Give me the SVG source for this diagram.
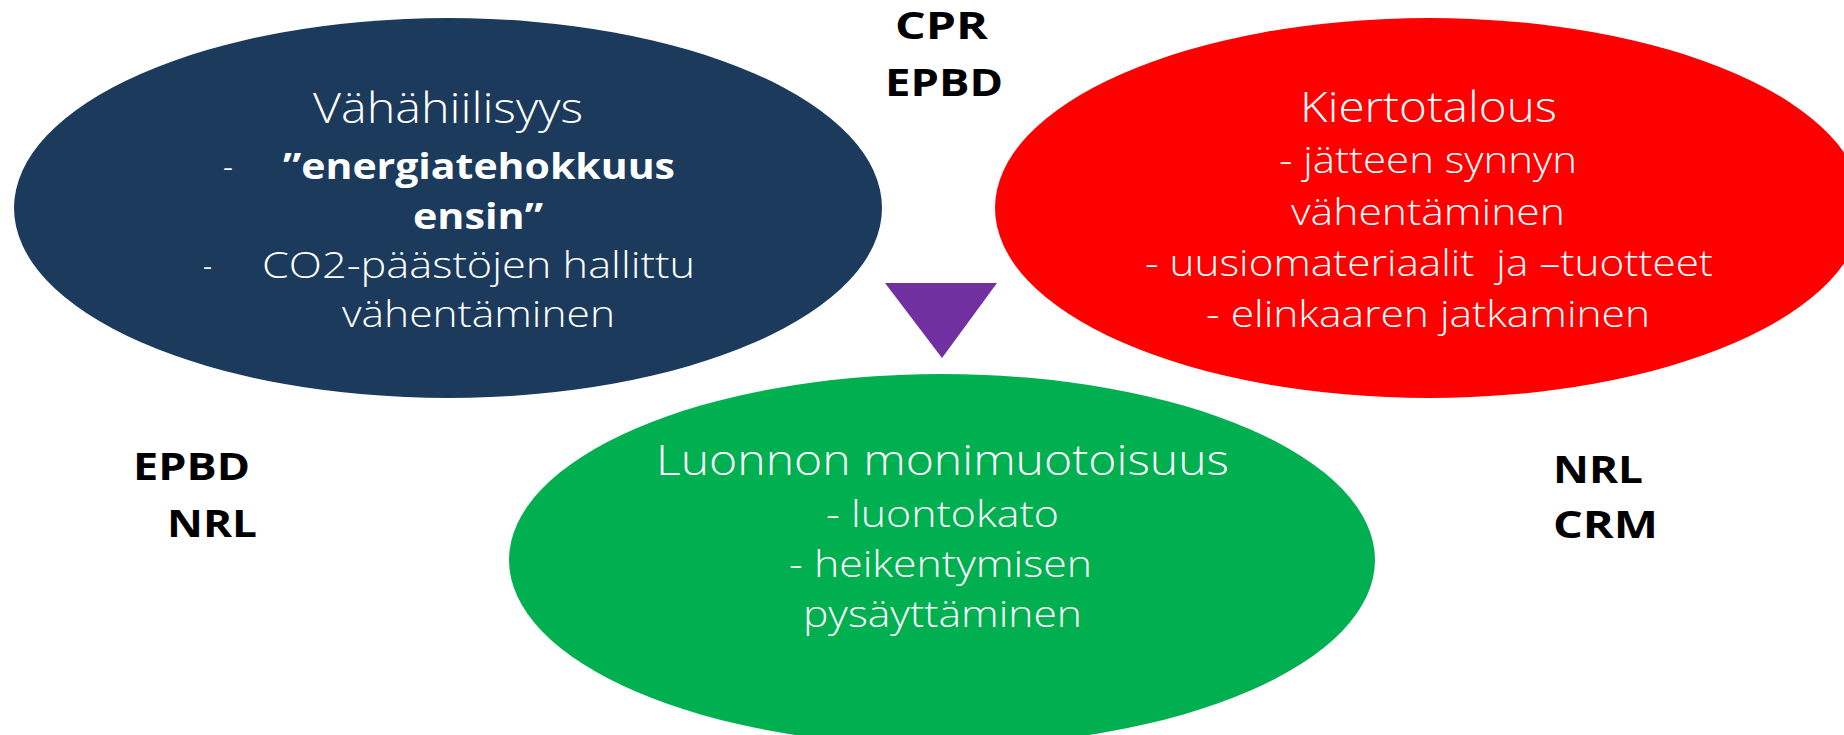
<svg xmlns="http://www.w3.org/2000/svg" width="1844" height="735" viewBox="0 0 1844 735">
<style>
.t{font-family:"Open Sans","Lato","Noto Sans",sans-serif;font-weight:300;font-size:36px;fill:#ffffff}
.h{font-size:42px}
.b{font-weight:700;font-size:36px}
.lab{font-family:"Open Sans","Lato","Noto Sans",sans-serif;font-weight:700;font-size:38px;fill:#000000}
.pre{white-space:pre}
</style>
<rect x="0" y="0" width="1844" height="735" fill="#ffffff"/>
<g id="node-vahahiilisyys">
<ellipse cx="448" cy="208" rx="434" ry="190" fill="#1B3A5C"/>
<text class="t h" x="313" y="123" textLength="270" lengthAdjust="spacingAndGlyphs">Vähähiilisyys</text>
<text class="t" x="223" y="179" textLength="10" lengthAdjust="spacingAndGlyphs">-</text>
<text class="t b" x="283" y="179" textLength="392" lengthAdjust="spacingAndGlyphs">”energiatehokkuus</text>
<text class="t b" x="413" y="229" textLength="130" lengthAdjust="spacingAndGlyphs">ensin”</text>
<text class="t" x="203" y="278" textLength="9" lengthAdjust="spacingAndGlyphs">-</text>
<text class="t" x="262" y="278" textLength="433" lengthAdjust="spacingAndGlyphs">CO2-päästöjen hallittu</text>
<text class="t" x="342" y="327" textLength="273" lengthAdjust="spacingAndGlyphs">vähentäminen</text>
</g>
<g id="node-kiertotalous">
<ellipse cx="1429" cy="208" rx="434" ry="190" fill="#FF0000"/>
<text class="t h" x="1300" y="122" textLength="257" lengthAdjust="spacingAndGlyphs">Kiertotalous</text>
<text class="t" x="1279" y="173" textLength="298" lengthAdjust="spacingAndGlyphs">- jätteen synnyn</text>
<text class="t" x="1291" y="225" textLength="274" lengthAdjust="spacingAndGlyphs">vähentäminen</text>
<text class="t pre" x="1145" y="276" textLength="568" lengthAdjust="spacingAndGlyphs">- uusiomateriaalit  ja –tuotteet</text>
<text class="t" x="1206" y="327" textLength="444" lengthAdjust="spacingAndGlyphs">- elinkaaren jatkaminen</text>
</g>
<g id="node-luonnon">
<ellipse cx="942" cy="560" rx="433" ry="186" fill="#00B050"/>
<text class="t h" x="656" y="475" textLength="573" lengthAdjust="spacingAndGlyphs">Luonnon monimuotoisuus</text>
<text class="t" x="826" y="527" textLength="233" lengthAdjust="spacingAndGlyphs">- luontokato</text>
<text class="t" x="789" y="577" textLength="303" lengthAdjust="spacingAndGlyphs">- heikentymisen</text>
<text class="t" x="803" y="627" textLength="279" lengthAdjust="spacingAndGlyphs">pysäyttäminen</text>
</g>
<g id="connectors">
<polygon points="885,283 997,283 942,358" fill="#7030A0"/>
</g>
<g id="label-top">
<text class="lab" x="895" y="39" textLength="93" lengthAdjust="spacingAndGlyphs">CPR</text>
<text class="lab" x="885" y="96" textLength="118" lengthAdjust="spacingAndGlyphs">EPBD</text>
</g>
<g id="label-left">
<text class="lab" x="133" y="480" textLength="117" lengthAdjust="spacingAndGlyphs">EPBD</text>
<text class="lab" x="167" y="537" textLength="90" lengthAdjust="spacingAndGlyphs">NRL</text>
</g>
<g id="label-right">
<text class="lab" x="1553" y="483" textLength="90" lengthAdjust="spacingAndGlyphs">NRL</text>
<text class="lab" x="1553" y="538" textLength="105" lengthAdjust="spacingAndGlyphs">CRM</text>
</g>
</svg>
